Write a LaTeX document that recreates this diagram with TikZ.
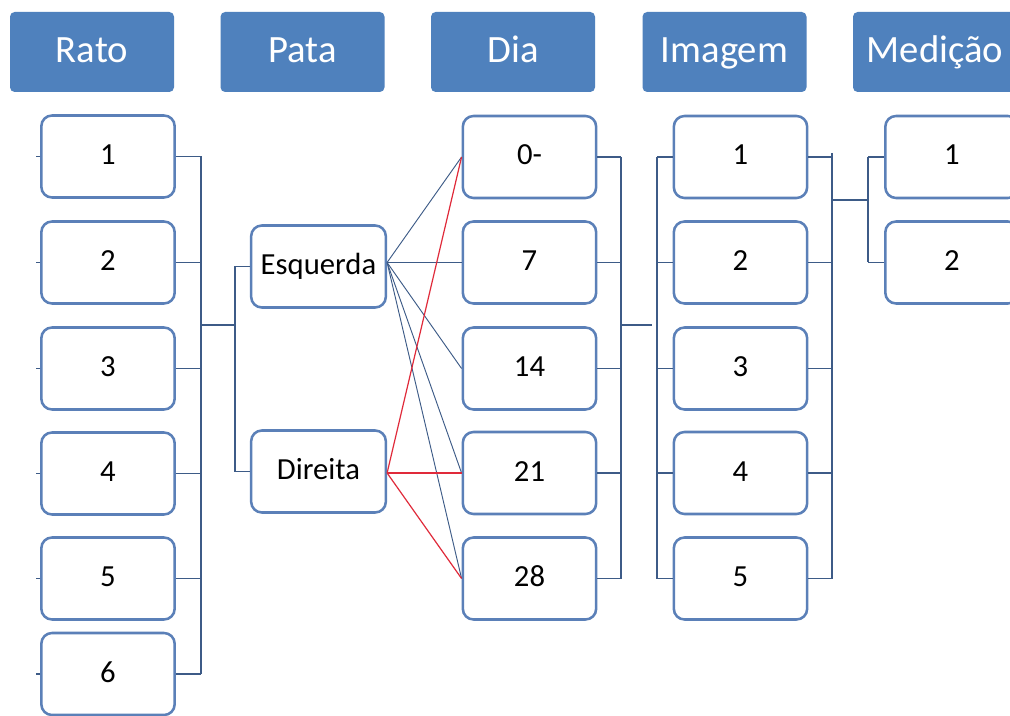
\documentclass[tikz,border=0pt]{standalone}
\usepackage{fontspec}
\setmainfont{Carlito}
\definecolor{hdr}{HTML}{4F81BD}
\definecolor{bxline}{HTML}{5B80B8}
\definecolor{conn}{HTML}{3D5B87}
\definecolor{redl}{HTML}{E02A3A}
\tikzset{
  hdrbox/.style={fill=hdr, draw=none, rounded corners=3.5pt, minimum width=123pt, minimum height=60pt, inner sep=0pt, text=white, font=\fontsize{29}{32}\selectfont, text height=19pt, text depth=3pt},
  itembox/.style={draw=bxline, line width=1.9pt, fill=white, rounded corners=8pt, minimum width=100pt, minimum height=61.5pt, inner sep=0pt, font=\fontsize{23}{26}\selectfont, text height=15pt, text depth=3pt},
  bus/.style={draw=conn, line width=1.4pt},
  fan/.style={draw=conn, line width=0.7pt},
  redfan/.style={draw=redl, line width=0.9pt}
}
\begin{document}
\begin{tikzpicture}[x=0.75pt,y=-0.75pt]
\clip (0,0) rectangle (1010,716);
\fill[white] (0,0) rectangle (1010,716);
% headers
\node[hdrbox] (hr) at (92,52) {Rato};
\node[hdrbox] (hp) at (302.5,52) {Pata};
\node[hdrbox] (hd) at (513,52) {Dia};
\node[hdrbox] (hi) at (724.5,52) {Imagem};
\node[hdrbox] (hm) at (935,52) {Medição};
% Rato
\node[itembox] (r1) at (108,156.5) {1};
\node[itembox] (r2) at (108,262.5) {2};
\node[itembox] (r3) at (108,368.5) {3};
\node[itembox] (r4) at (108,473.5) {4};
\node[itembox] (r5) at (108,578.5) {5};
\node[itembox] (r6) at (108,674) {6};
% Pata
\node[itembox, minimum width=101pt] (pe) at (318.5,266.5) {Esquerda};
\node[itembox, minimum width=101pt] (pd) at (318.5,471.5) {Direita};
% Dia
\node[itembox] (d1) at (529.5,157) {0-};
\node[itembox] (d2) at (529.5,262.5) {7};
\node[itembox] (d3) at (529.5,368.5) {14};
\node[itembox] (d4) at (529.5,473) {21};
\node[itembox] (d5) at (529.5,578.5) {28};
% Imagem
\node[itembox] (i1) at (740.5,157) {1};
\node[itembox] (i2) at (740.5,262.5) {2};
\node[itembox] (i3) at (740.5,368.5) {3};
\node[itembox] (i4) at (740.5,473) {4};
\node[itembox] (i5) at (740.5,578.5) {5};
% Medicao
\node[itembox] (m1) at (952,157) {1};
\node[itembox] (m2) at (952,262.5) {2};

% Rato bracket
\coordinate (rbT) at (201,156.5);
\coordinate (rbB) at (201,674);
\coordinate (rbM) at (201,325);
\coordinate (pbM) at (235,325);
\coordinate (pbT) at (235,266.5);
\coordinate (pbB) at (235,471.5);
\foreach \k in {1,...,6}{
  \draw[bus] (r\k.east) -- (r\k.east -| rbT);
  \draw[conn, line width=1pt] (r\k.west) -- ++(-4,0);
}
\draw[bus] (rbT) -- (rbB);
\draw[bus] (rbM) -- (pbM);
\draw[bus] (pbT) -- (pbB);
\draw[bus] (pbT) -- (pe.west);
\draw[bus] (pbB) -- (pd.west);

% fans
\coordinate (es) at (pe.east |- d2.west);
\coordinate (ds) at (pd.east |- d4.west);
\foreach \k in {1,...,5}{
  \draw[fan] (es) -- (d\k.west);
}
\draw[redfan] (ds) -- (d1.west);
\draw[redfan] (ds) -- (d4.west);
\draw[redfan] (ds) -- (d5.west);

% Dia bracket
\coordinate (dbT) at (621,157);
\coordinate (dbB) at (621,578.5);
\coordinate (dbM) at (621,325);
\coordinate (dbE) at (652,325);
\foreach \k in {1,...,5}{
  \draw[bus] (d\k.east) -- (d\k.east -| dbT);
}
\draw[bus] (dbT) -- (dbB);
\draw[bus] (dbM) -- (dbE);

% Imagem left bus
\coordinate (ibT) at (657,157);
\coordinate (ibB) at (657,578.5);
\draw[bus] (ibT) -- (ibB);
\foreach \k in {1,...,5}{
  \draw[bus] (ibT |- i\k.west) -- (i\k.west);
}

% Imagem right bracket
\coordinate (irT) at (832,153);
\coordinate (irB) at (832,578.5);
\coordinate (irM) at (832,200);
\coordinate (mbM) at (868,200);
\coordinate (mbT) at (868,157);
\coordinate (mbB) at (868,262.5);
\foreach \k in {1,...,5}{
  \draw[bus] (i\k.east) -- (i\k.east -| irT);
}
\draw[bus] (irT) -- (irB);
\draw[bus] (irM) -- (mbM);
\draw[bus] (mbT) -- (mbB);
\draw[bus] (mbT) -- (m1.west);
\draw[bus] (mbB) -- (m2.west);
\end{tikzpicture}
\end{document}
